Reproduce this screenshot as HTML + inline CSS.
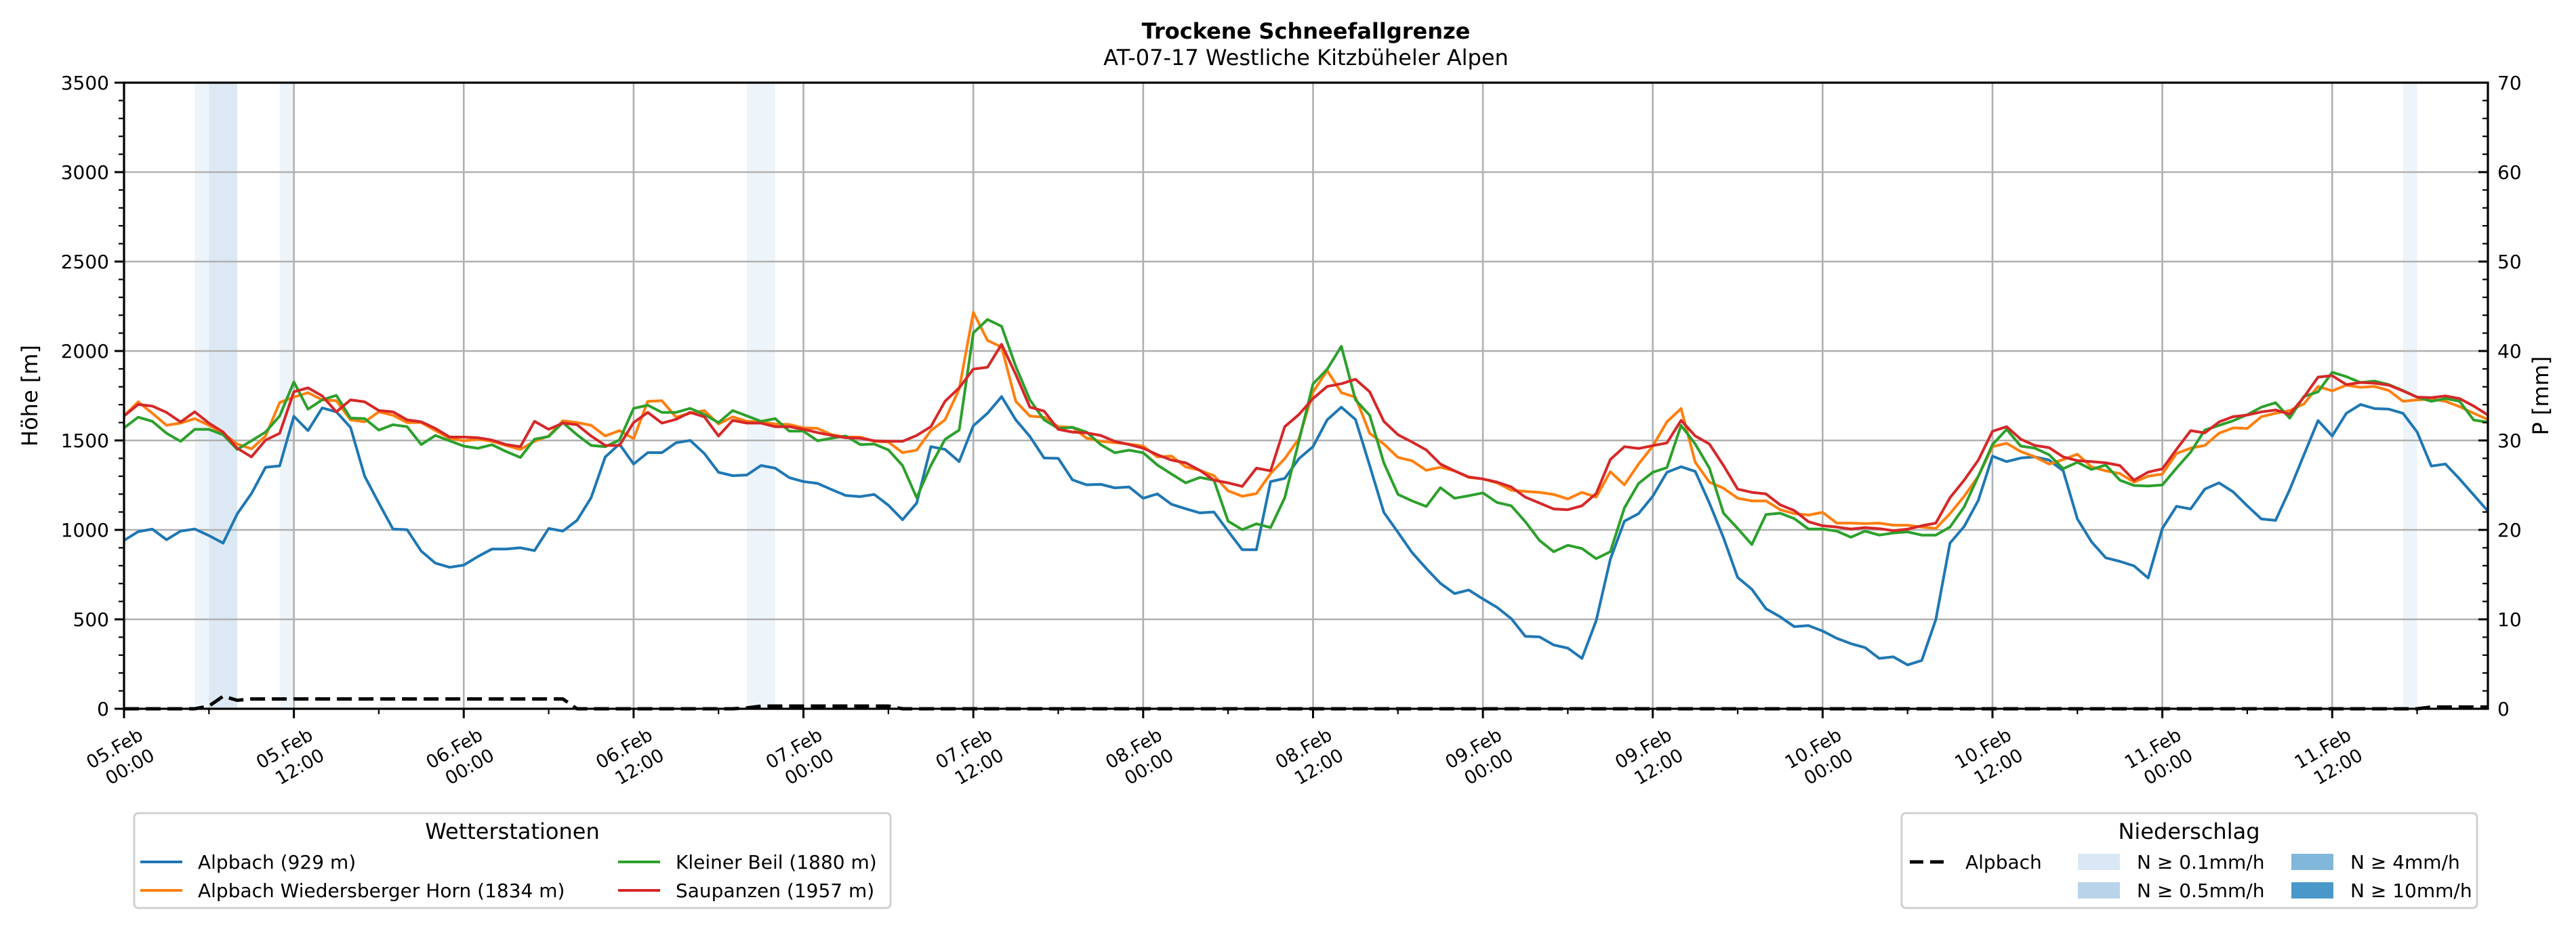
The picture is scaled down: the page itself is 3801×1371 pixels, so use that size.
<!DOCTYPE html>
<html><head><meta charset="utf-8"><style>
html,body{margin:0;padding:0;background:#fff;}
svg{display:block;font-family:"DejaVu Sans","Liberation Sans",sans-serif;}
</style></head><body>
<svg id="chart" width="3801" height="1371" viewBox="0 0 3801 1371" xmlns="http://www.w3.org/2000/svg">
<text x="1927" y="57" text-anchor="middle" font-size="32" font-weight="bold">Trockene Schneefallgrenze</text>
<text x="1927" y="96" text-anchor="middle" font-size="32">AT-07-17 Westliche Kitzbüheler Alpen</text>
<g id="bands"></g>
<g id="grid"></g>
<g id="series"></g>
<g id="axes"></g>
<g id="legends"></g>
</svg>
<script>
const alpbach=[941,990,1004,945,993,1005,968,926,1090,1203,1350,1358,
1635,1555,1682,1660,1573,1300,1150,1005,1001,881,814,791,
803,851,893,893,900,884,1008,993,1053,1180,1408,1480,
1368,1432,1432,1487,1500,1427,
1322,1303,1307,1360,1345,1292,1270,1260,1225,1192,1186,1198,
1138,1057,1150,1465,1450,1382,1582,1652,1745,1615,1522,1402,
1400,1280,1252,1255,1235,1240,1177,1201,1143,1118,1095,1100,
993,889,889,1270,1288,1398,
1465,1615,1686,1617,1360,1098,986,873,784,701,644,664,
614,567,504,405,402,357,339,282,492,836,1049,1091,
1188,1322,1353,1327,1150,956,734,668,559,514,459,465,
435,394,364,342,282,290,
245,270,499,926,1019,1165,1412,1382,1402,1408,1390,1330,
1061,933,844,824,799,731,1008,1132,1117,1228,1263,1213,
1135,1061,1053,1225,1419,1611,1525,1652,1701,1678,1675,1652,
1547,1357,1368,1285,1195,1105];
const wiedersberger=[1637,1716,1652,1585,1597,1622,1585,1540,1480,1453,1525,1712,
1742,1767,1727,1722,1615,1604,1660,1641,1600,1600,1555,1513,
1498,1507,1495,1472,1450,1495,1525,1610,1600,1585,1525,1555,
1510,1719,1722,1630,1652,1667,
1592,1632,1607,1604,1592,1589,1570,1567,1532,1519,1519,1495,
1491,1432,1446,1555,1615,1787,2216,2059,2022,1719,1636,1630,
1577,1573,1513,1495,1488,1480,1468,1408,1413,1352,1333,1303,
1218,1188,1203,1315,1398,1510,
1770,1891,1767,1742,1540,1480,1405,1386,1333,1350,1330,1293,
1285,1263,1222,1215,1210,1198,1173,1210,1183,1325,1252,1368,
1468,1604,1678,1378,1267,1233,1177,1162,1162,1113,1091,1083,
1098,1038,1038,1035,1038,1026,
1026,1016,1008,1091,1188,1300,1465,1484,1438,1408,1368,1393,
1423,1352,1330,1315,1267,1300,1312,1427,1457,1472,1540,1570,
1567,1633,1652,1667,1704,1802,1777,1809,1797,1802,1779,1719,
1727,1731,1719,1689,1652,1617];
const kleinerBeil=[1570,1630,1607,1540,1495,1562,1562,1532,1450,1498,1547,1637,
1827,1675,1727,1752,1625,1622,1558,1588,1577,1477,1528,1498,
1468,1456,1476,1438,1405,1507,1522,1600,1532,1472,1465,1502,
1679,1697,1657,1657,1679,1645,
1600,1667,1637,1607,1622,1552,1552,1498,1513,1525,1477,1480,
1447,1360,1180,1360,1506,1558,2101,2176,2138,1914,1727,1615,
1567,1573,1547,1477,1431,1446,1431,1363,1312,1263,1293,1278,
1049,1001,1034,1013,1180,1497,
1816,1898,2026,1727,1641,1375,1198,1162,1131,1236,1177,1191,
1207,1153,1135,1046,941,878,914,896,839,878,1123,1260,
1322,1348,1584,1480,1345,1093,1008,918,1086,1093,1063,1005,
1005,993,959,993,971,983,
989,971,971,1016,1128,1300,1477,1562,1468,1457,1420,1342,
1378,1338,1363,1278,1248,1245,1251,1345,1435,1558,1584,1610,
1644,1686,1711,1625,1746,1772,1881,1857,1824,1832,1812,1779,
1742,1719,1734,1719,1614,1602];
const saupanzen=[1637,1701,1692,1657,1603,1660,1597,1547,1457,1408,1502,1540,
1772,1794,1749,1660,1727,1716,1667,1660,1615,1604,1567,1519,
1519,1515,1502,1477,1465,1607,1562,1597,1588,1525,1472,1472,
1600,1657,1597,1618,1657,1632,
1525,1612,1597,1597,1577,1577,1562,1544,1528,1515,1513,1498,
1495,1495,1528,1577,1719,1794,1899,1909,2037,1869,1686,1664,
1562,1547,1542,1528,1495,1477,1457,1420,1390,1375,1333,1278,
1263,1243,1345,1330,1577,1645,
1734,1802,1817,1842,1772,1607,1532,1491,1447,1368,1330,1296,
1285,1267,1240,1183,1150,1117,1113,1135,1203,1393,1465,1455,
1471,1486,1612,1525,1480,1360,1228,1210,1201,1140,1108,1046,
1023,1016,1005,1013,1007,996,
1004,1023,1038,1180,1278,1390,1551,1577,1507,1472,1460,1408,
1387,1382,1375,1360,1278,1323,1341,1450,1555,1542,1603,1633,
1642,1660,1670,1647,1742,1854,1862,1812,1824,1820,1809,1777,
1742,1739,1749,1734,1692,1642];
const precipSum=[0,0,0,0,0,0,0.3,1.4,0.95,1.1,1.1,1.1,1.1,1.1,1.1,1.1,1.1,1.1,1.1,1.1,1.1,1.1,1.1,1.1,1.1,1.1,1.1,1.1,1.1,1.1,1.1,1.1,
0,0,0,0,0,0,0,0,0,0,0,0,0.1,0.3,0.3,0.3,0.3,0.3,0.3,0.3,0.3,0.3,0.3,
0,0,0,0,0,0,0,0,0,0,0,0,0,0,0,0,0,0,0,0,0,0,0,0,0,0,0,0,0,0,0,0,0,0,0,0,0,0,0,0,0,0,0,0,0,0,0,0,0,0,0,0,0,0,0,0,0,0,
0,0,0,0,0,0,0,0,0,0,0,0,0,0,0,0,0,0,0,0,0,0,0,0,0,0,0,0,0,0,0,0,0,0,0,0,0,0,0,0,0,0,0,0,0,0,0,0,0,0,
0.2,0.2,0.2,0.2,0.2];
const precipRateHours=[5,6,7,11,44,45,161];
const precipRateValues=[0.2,0.7,0.7,0.2,0.2,0.2,0.2];
const yTicks=[0,500,1000,1500,2000,2500,3000,3500];
const y2Ticks=[0,10,20,30,40,50,60,70];
const xTickDays=["05.Feb","05.Feb","06.Feb","06.Feb","07.Feb","07.Feb","08.Feb","08.Feb","09.Feb","09.Feb","10.Feb","10.Feb","11.Feb","11.Feb"];
const xTickTimes=["00:00","12:00","00:00","12:00","00:00","12:00","00:00","12:00","00:00","12:00","00:00","12:00","00:00","12:00"];

const NS="http://www.w3.org/2000/svg";
const L=183,R=3671,T=122,B=1046,HMAX=167;
const xs=h=>L+h/HMAX*(R-L);
const ys=v=>B-v/3500*(B-T);
const y2s=v=>B-v/70*(B-T);
function mk(tag,attrs,parent){const e=document.createElementNS(NS,tag);for(const k in attrs)e.setAttribute(k,attrs[k]);parent.appendChild(e);return e;}
const bands=document.getElementById('bands'),grid=document.getElementById('grid'),series=document.getElementById('series'),axes=document.getElementById('axes'),leg=document.getElementById('legends');

precipRateHours.forEach((h,i)=>{const v=precipRateValues[i];
 const col=v>=10?'#a4cbe4':v>=4?'#bfdbed':v>=0.5?'#dce9f4':'#edf4fa';
 const r=mk('rect',{x:xs(h),y:T,width:xs(h+1)-xs(h),height:B-T,fill:col},bands);
 
 });

yTicks.forEach(v=>{if(v>0&&v<3500){const l=mk('line',{x1:L,x2:R,y1:ys(v),y2:ys(v),stroke:'#b0b0b0','stroke-width':2.6},grid);
 
 }});
for(let i=1;i<xTickDays.length;i++){const x=xs(i*12);const l=mk('line',{x1:x,x2:x,y1:T,y2:B,stroke:'#b0b0b0','stroke-width':2.6},grid);
 
 }

const sdefs=[[alpbach,'#1f77b4','series-alpbach'],[wiedersberger,'#ff7f0e','series-wiedersberger-horn'],[kleinerBeil,'#2ca02c','series-kleiner-beil'],[saupanzen,'#d62728','series-saupanzen']];
sdefs.forEach(([d,c,n])=>{const p=mk('polyline',{points:d.map((v,i)=>xs(i).toFixed(1)+','+ys(v).toFixed(1)).join(' '),fill:'none',stroke:c,'stroke-width':4,'stroke-linejoin':'round'},series);
 
 });
const pl=mk('polyline',{points:precipSum.map((v,i)=>xs(i).toFixed(1)+','+y2s(v).toFixed(1)).join(' '),fill:'none',stroke:'#000','stroke-width':5,'stroke-dasharray':'22,10'},series);



const fr=mk('rect',{x:L,y:T,width:R-L,height:B-T,fill:'none',stroke:'#000','stroke-width':3.2},axes);


for(let v=0;v<=3500;v+=100){const major=v%500===0;mk('line',{x1:L-(major?14:8),x2:L,y1:ys(v),y2:ys(v),stroke:'#000','stroke-width':major?3:2.2},axes);}
yTicks.forEach(v=>{const t=mk('text',{x:L-22,y:ys(v)+10,'text-anchor':'end','font-size':28},axes);t.textContent=v;
 
 });
for(let v=0;v<=70;v+=2){const major=v%10===0;mk('line',{x1:R-(major?14:8),x2:R,y1:y2s(v),y2:y2s(v),stroke:'#000','stroke-width':major?3:2.2},axes);}
y2Ticks.forEach(v=>{const t=mk('text',{x:R+14,y:y2s(v)+10,'text-anchor':'start','font-size':28},axes);t.textContent=v;
 
 });
for(let h=0;h<=HMAX;h+=6){const major=h%12===0;mk('line',{x1:xs(h),x2:xs(h),y1:B,y2:B+(major?14:8),stroke:'#000','stroke-width':major?3:2.2},axes);}
xTickDays.forEach((d,i)=>{const x=xs(i*12);
 const g=mk('g',{},axes);
 
 
 const t1=mk('text',{x:x+30,y:1090,'text-anchor':'end','font-size':27,transform:`rotate(-30 ${x+30} 1090)`},g);t1.textContent=d;
 const t2=mk('text',{x:x+47,y:1120,'text-anchor':'end','font-size':27,transform:`rotate(-30 ${x+47} 1120)`},g);t2.textContent=xTickTimes[i];});
const yl=mk('text',{x:55,y:584,'text-anchor':'middle','font-size':32,transform:'rotate(-90 55 584)'},axes);yl.textContent='Höhe [m]';


const y2l=mk('text',{x:3760,y:584,'text-anchor':'middle','font-size':32,transform:'rotate(-90 3760 584)'},axes);y2l.textContent='P [mm]';



function box(x,y,w,h,name){const r=mk('rect',{x,y,width:w,height:h,rx:6,fill:'#fff',stroke:'#d0d0d0','stroke-width':3},leg);
 
 }
function txt(x,y,s,size,name,anchor){const t=mk('text',{x,y,'font-size':size,'text-anchor':anchor||'start'},leg);t.textContent=s;
 
 }
box(198,1200,1116,140,'legend-stations');
txt(756,1238,'Wetterstationen',32,'legend-stations-title','middle');
const ent=[['Alpbach (929 m)','#1f77b4',207,1272],['Alpbach Wiedersberger Horn (1834 m)','#ff7f0e',207,1314],['Kleiner Beil (1880 m)','#2ca02c',912,1272],['Saupanzen (1957 m)','#d62728',912,1314]];
ent.forEach(([s,c,x,y])=>{mk('line',{x1:x,x2:x+62,y1:y,y2:y,stroke:c,'stroke-width':4},leg);txt(x+85,y+10,s,28,'legend-entry');});
box(2806,1200,849,140,'legend-precip');
txt(3230,1238,'Niederschlag',32,'legend-precip-title','middle');
mk('line',{x1:2818,x2:2874,y1:1272,y2:1272,stroke:'#000','stroke-width':5,'stroke-dasharray':'20,10'},leg);
txt(2900,1282,'Alpbach',28,'legend-entry');
const pat=[['N ≥ 0.1mm/h','#dae8f5',3066,1260],['N ≥ 0.5mm/h','#b9d4ea',3066,1302],['N ≥ 4mm/h','#80b7db',3381,1260],['N ≥ 10mm/h','#4a97c9',3381,1302]];
pat.forEach(([s,c,x,y])=>{const r=mk('rect',{x,y,width:62,height:24,fill:c},leg);
 
 
 txt(x+87,y+22,s,28,'legend-entry');});
</script>
</body></html>
